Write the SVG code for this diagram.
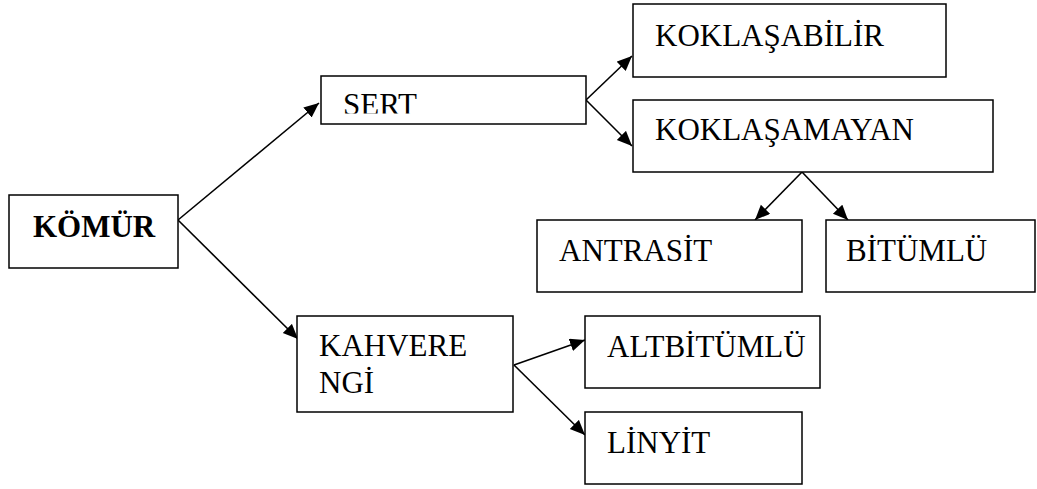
<svg xmlns="http://www.w3.org/2000/svg" width="1037" height="489" viewBox="0 0 1037 489">
<style>
.box{fill:#fff;stroke:#000;stroke-width:1.5}
.t{font-family:"Liberation Serif","Times New Roman",serif;font-size:31px;fill:#000}
.b{font-weight:bold}
.c{stroke:#000;stroke-width:1.6;fill:none;marker-end:url(#ah)}
</style>
<defs>
<marker id="ah" markerUnits="userSpaceOnUse" markerWidth="17" markerHeight="14" refX="15" refY="6.5" orient="auto">
<path d="M0,0 L15,6.5 L0,13 Z" fill="#000"/>
</marker>
<clipPath id="sertclip"><rect x="322" y="77" width="263" height="36.5"/></clipPath>
</defs>
<g id="connectors">
<line class="c" x1="178" y1="220" x2="319" y2="103"/>
<line class="c" x1="178" y1="220" x2="298" y2="339"/>
<line class="c" x1="586" y1="100" x2="632" y2="56"/>
<line class="c" x1="586" y1="100" x2="632" y2="146"/>
<line class="c" x1="802" y1="172" x2="755" y2="220"/>
<line class="c" x1="802" y1="172" x2="848" y2="220"/>
<line class="c" x1="514" y1="365" x2="585" y2="340"/>
<line class="c" x1="514" y1="365" x2="585" y2="435"/>
</g>
<g id="komur">
<rect class="box" x="9" y="195" width="169" height="73"/>
<text class="t b" x="33" y="237">KÖMÜR</text>
</g>
<g id="sert">
<rect class="box" x="321" y="76" width="265" height="48"/>
<text class="t" x="343" y="115" clip-path="url(#sertclip)">SERT</text>
</g>
<g id="kahverengi">
<rect class="box" x="297" y="316" width="216" height="96"/>
<text class="t" x="319" y="356">KAHVERE</text>
<text class="t" x="319" y="393">NGİ</text>
</g>
<g id="koklasabilir">
<rect class="box" x="633" y="4" width="313" height="73"/>
<text class="t" x="655" y="46">KOKLAŞABİLİR</text>
</g>
<g id="koklasamayan">
<rect class="box" x="633" y="100" width="360" height="72"/>
<text class="t" x="655" y="140">KOKLAŞAMAYAN</text>
</g>
<g id="antrasit">
<rect class="box" x="537" y="220" width="265" height="72"/>
<text class="t" x="559" y="261">ANTRASİT</text>
</g>
<g id="bitumlu">
<rect class="box" x="826" y="220" width="209" height="72"/>
<text class="t" x="846" y="261">BİTÜMLÜ</text>
</g>
<g id="altbitumlu">
<rect class="box" x="585" y="316" width="235" height="72"/>
<text class="t" x="607" y="357">ALTBİTÜMLÜ</text>
</g>
<g id="linyit">
<rect class="box" x="585" y="412" width="217" height="72"/>
<text class="t" x="607" y="453">LİNYİT</text>
</g>
</svg>
